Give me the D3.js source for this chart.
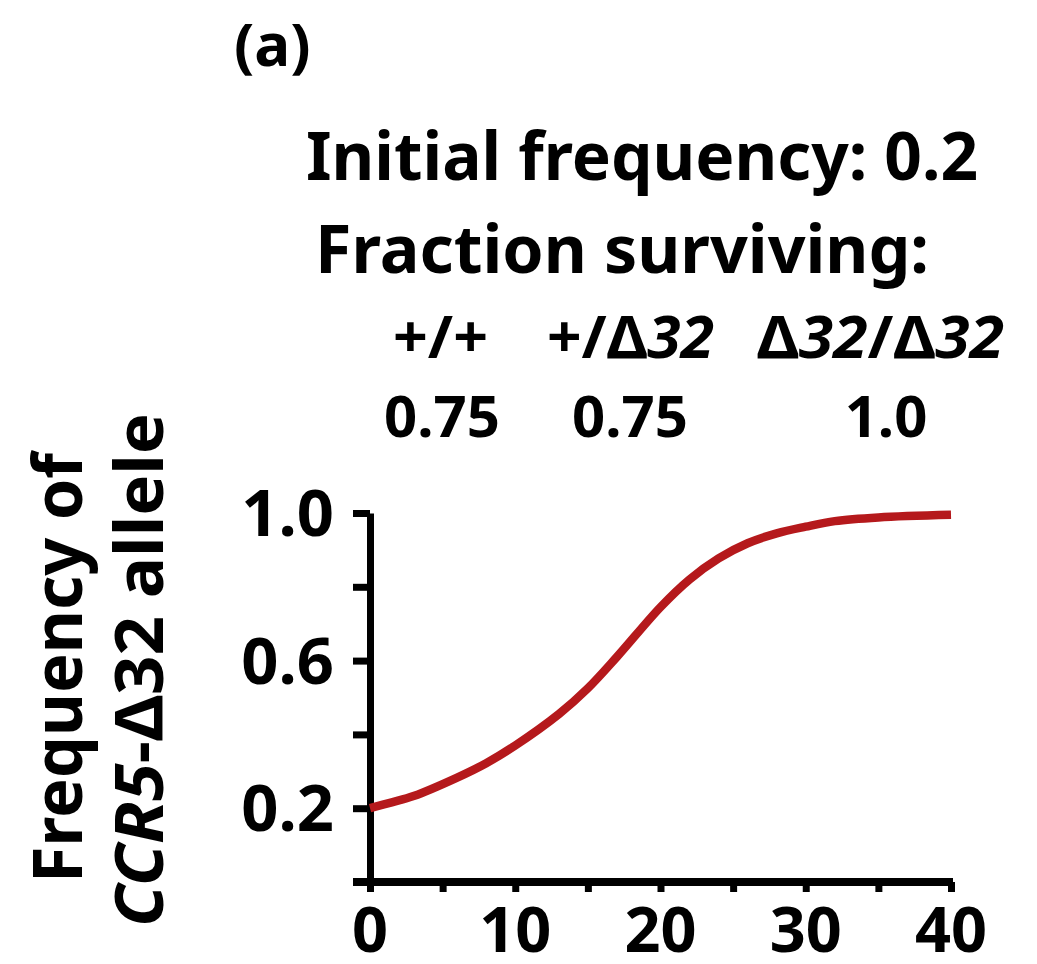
<!DOCTYPE html>
<html>
<head>
<meta charset="utf-8">
<script src="https://cdn.jsdelivr.net/npm/d3@7"></script>
<style>
  body { margin: 0; background: #fff; }
  svg text { font-family: "Noto Sans", "Open Sans", sans-serif; font-weight: 700; fill: #000; }
  .axis path, .axis line { stroke: #000; }
</style>
</head>
<body>
<div id="chart"></div>
<script>
// values
var generations = [0, 1.5, 3, 6, 8, 10, 13, 15, 17, 20, 22, 24, 26, 28, 30, 32, 35, 40];
var frequency = [0.20, 0.216, 0.233, 0.283, 0.322, 0.370, 0.455, 0.525, 0.61, 0.745, 0.82, 0.877, 0.918, 0.945, 0.963, 0.978, 0.988, 0.995];

var yTicks = [0, 0.2, 0.4, 0.6, 0.8, 1.0];
var yTickLabels = [0.2, 0.6, 1.0];
var xTicks = [0, 5, 10, 15, 20, 25, 30, 35, 40];
var xTickLabels = [0, 10, 20, 30, 40];

var genotypes = ["+/+", "+/Δ32", "Δ32/Δ32"];
var surviving = ["0.75", "0.75", "1.0"];

var W = 1037, H = 964;
var margin = { left: 370, top: 513, right: 86, bottom: 82 };

var svg = d3.select("#chart").append("svg")
    .attr("width", W)
    .attr("height", H);

var x = d3.scaleLinear().domain([0, 40]).range([margin.left, W - margin.right]);
var y = d3.scaleLinear().domain([0, 1]).range([H - margin.bottom, margin.top]);

// header texts
svg.append("text").attr("x", 234).attr("y", 66).style("font-size", "60px").text("(a)");

svg.append("text").attr("x", 306).attr("y", 180).style("font-size", "66px")
    .attr("textLength", 672).attr("lengthAdjust", "spacingAndGlyphs")
    .text("Initial frequency: 0.2");

svg.append("text").attr("x", 315).attr("y", 273).style("font-size", "66px")
    .attr("textLength", 614).attr("lengthAdjust", "spacingAndGlyphs")
    .text("Fraction surviving:");

// genotype header, "32" in italics
var gx = [[393, 95], [547, 167], [757, 247]];
genotypes.forEach(function (g, i) {
    var t = svg.append("text").attr("x", gx[i][0]).attr("y", 358).style("font-size", "60px")
        .attr("textLength", gx[i][1]).attr("lengthAdjust", "spacingAndGlyphs");
    g.split(/(32)/).forEach(function (part) {
        if (!part) return;
        t.append("tspan").style("font-style", part === "32" ? "italic" : "normal").text(part);
    });
});

var sx = [442, 630, 886];
surviving.forEach(function (s, i) {
    svg.append("text").attr("x", sx[i]).attr("y", 437).attr("text-anchor", "middle")
        .style("font-size", "58px").text(s);
});

// axes
var yAxis = d3.axisLeft(y).tickValues(yTicks).tickSize(17).tickSizeOuter(0).tickFormat("");
var xAxis = d3.axisBottom(x).tickValues(xTicks).tickSize(10).tickSizeOuter(0).tickFormat("");

var gy = svg.append("g").attr("class", "axis")
    .attr("transform", "translate(" + x(0) + ",0)")
    .call(yAxis);
gy.select(".domain").attr("stroke-width", 7);
gy.selectAll(".tick line").attr("stroke-width", 7);

var gxAxis = svg.append("g").attr("class", "axis")
    .attr("transform", "translate(0," + y(0) + ")")
    .call(xAxis);
gxAxis.select(".domain").attr("stroke-width", 8).attr("d", "M" + (x(0) - 17) + ",0H" + (x(40) + 2));
gxAxis.selectAll(".tick line").attr("stroke-width", 7);

svg.selectAll(".ylab").data(yTickLabels).enter().append("text")
    .attr("class", "ylab")
    .attr("x", 334)
    .attr("y", function (d) { return y(d) + 23; })
    .attr("text-anchor", "end")
    .style("font-size", "65px")
    .text(function (d) { return d.toFixed(1); });

svg.selectAll(".xlab").data(xTickLabels).enter().append("text")
    .attr("class", "xlab")
    .attr("x", function (d) { return x(d); })
    .attr("y", 952)
    .attr("text-anchor", "middle")
    .style("font-size", "63px")
    .text(function (d) { return d; });

// y title, two lines rotated
svg.append("text")
    .attr("transform", "translate(82,668) rotate(-90)")
    .attr("text-anchor", "middle")
    .style("font-size", "68px")
    .attr("textLength", 430).attr("lengthAdjust", "spacingAndGlyphs")
    .text("Frequency of");

var t2 = svg.append("text")
    .attr("transform", "translate(163,670) rotate(-90)")
    .attr("text-anchor", "middle")
    .style("font-size", "67px")
    .attr("textLength", 514).attr("lengthAdjust", "spacingAndGlyphs");
t2.append("tspan").style("font-style", "italic").text("CCR5");
t2.append("tspan").text("-Δ32 allele");

// the curve
var line = d3.line()
    .x(function (d, i) { return x(generations[i]); })
    .y(function (d) { return y(d); })
    .curve(d3.curveCatmullRom.alpha(0.5));

svg.append("path")
    .datum(frequency)
    .attr("d", line)
    .attr("fill", "none")
    .attr("stroke", "#b5191c")
    .attr("stroke-width", 8.5)
    .attr("stroke-linecap", "butt");
</script>
</body>
</html>
